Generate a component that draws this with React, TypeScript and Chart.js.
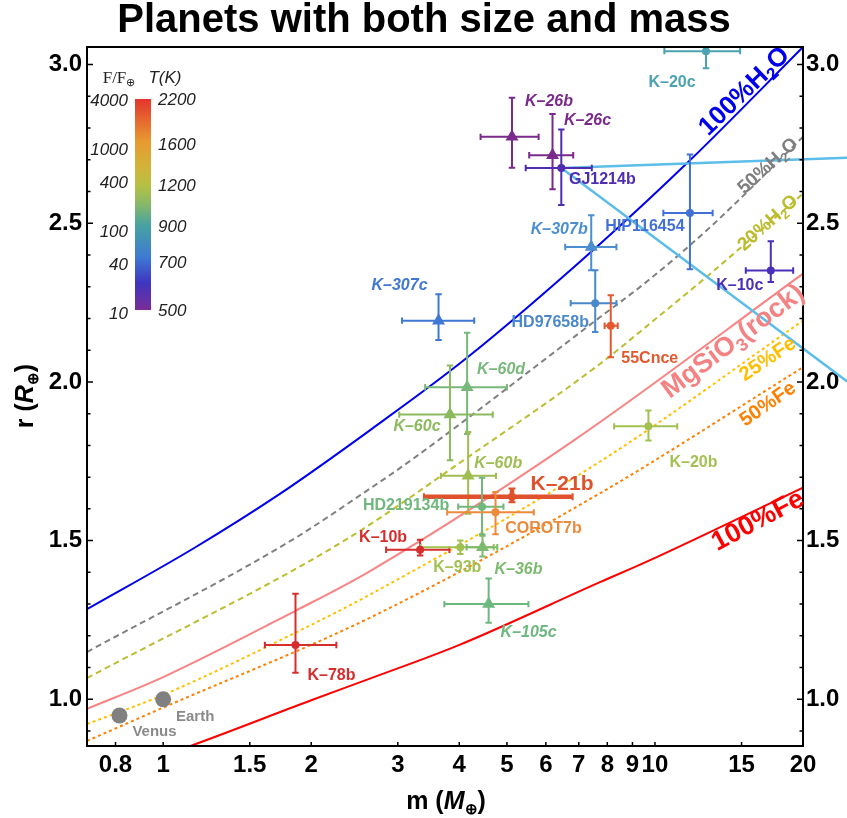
import React, { useEffect, useRef } from 'react';
import { Chart, registerables } from 'chart.js';

Chart.register(...registerables);

const W = 847;
const H = 818;
const FRAME = { left: 87, right: 803, top: 47, bottom: 746 };
const SANS = "'Liberation Sans', Arial, Helvetica, sans-serif";
const SERIF = "'Liberation Serif', 'Times New Roman', serif";

// ---------- axes ----------
const massMin = 0.7;
const massMax = 20;
const radiusMin = 0.853;
const radiusMax = 3.055;
const massTicks = [0.8, 1, 1.5, 2, 3, 4, 5, 6, 7, 8, 9, 10, 15, 20];
const radiusTicks = [1.0, 1.5, 2.0, 2.5, 3.0];
const radiusMinorTicks = [0.9, 1.1, 1.2, 1.3, 1.4, 1.6, 1.7, 1.8, 1.9, 2.1, 2.2, 2.3, 2.4, 2.6, 2.7, 2.8, 2.9];

// ---------- planets ----------
const planetNames = ['K–20c', 'K–26b', 'K–26c', 'GJ1214b', 'HIP116454', 'K–10c', 'K–307b', 'K–307c', 'HD97658b', '55Cnce', 'K–60d', 'K–60c', 'K–60b', 'K–21b', 'HD219134b', 'COROT7b', 'K–10b', 'K–93b', 'K–36b', 'K–105c', 'K–78b', 'K–20b'];
const planetMass = [12.7, 5.12, 6.19, 6.45, 11.78, 17.2, 7.42, 3.63, 7.56, 8.13, 4.15, 3.83, 4.17, 5.12, 4.45, 4.74, 3.33, 4.02, 4.46, 4.59, 1.858, 9.7];
const planetMassLow = [10.45, 4.42, 5.55, 5.46, 10.4, 15.3, 6.57, 3.06, 6.74, 7.9, 3.41, 3.02, 3.67, 3.39, 3.98, 3.78, 2.84, 3.34, 4.14, 3.73, 1.61, 8.26];
const planetMassHigh = [14.9, 5.8, 6.82, 7.44, 13.1, 19.1, 8.35, 4.29, 8.35, 8.4, 5.0, 4.68, 4.75, 6.8, 4.92, 5.67, 3.82, 4.7, 4.78, 5.53, 2.25, 11.1];
const planetRadius = [3.042, 2.772, 2.714, 2.674, 2.532, 2.351, 2.425, 2.193, 2.248, 2.177, 1.983, 1.897, 1.704, 1.638, 1.607, 1.589, 1.471, 1.479, 1.479, 1.3, 1.171, 1.86];
const planetRadiusLow = [2.988, 2.675, 2.607, 2.557, 2.355, 2.315, 2.352, 2.132, 2.157, 2.078, 1.836, 1.753, 1.585, 1.621, 1.52, 1.52, 1.453, 1.458, 1.45, 1.241, 1.084, 1.815];
const planetRadiusHigh = [3.1, 2.895, 2.844, 2.795, 2.716, 2.443, 2.525, 2.276, 2.352, 2.273, 2.155, 2.052, 1.842, 1.664, 1.698, 1.653, 1.503, 1.5, 1.515, 1.381, 1.333, 1.91];
const planetColors = ['#4ba2b0', '#7b2a8c', '#7b2a8c', '#4f2cb0', '#4270d6', '#4a30b8', '#4b8fd0', '#3f78d4', '#4a88cc', '#e5582e', '#79b87b', '#8bba5e', '#9fbd50', '#e0522e', '#70b87c', '#ec8a3c', '#d62d2d', '#a2c152', '#7cbb6e', '#6db87e', '#d62d2d', '#a2c152'];
const planetMarkers = ['circle', 'triangle', 'triangle', 'circle', 'circle', 'circle', 'triangle', 'triangle', 'circle', 'circle', 'triangle', 'triangle', 'triangle', 'circle', 'circle', 'circle', 'circle', 'circle', 'triangle', 'triangle', 'circle', 'circle'];
const planetItalic = [false, true, true, false, false, false, true, true, false, false, true, true, true, false, false, false, false, false, true, true, false, false];
const planetLabelDx = [-34, 37, 35, 41, -45, -31, -32, -39, -45, 39, 34, -33, 30, 50, -76, 48, -37, -3, 36, 40, 36, 45];
const planetLabelDy = [31, -35, -35, 12, 14, 15, -17, -35, 19, 33, -18, 12, -12, -13, -1, 16, -12, 20, 22, 28, 31, 36];
const planetLabelSize = [16, 16, 16, 16, 16, 16, 16, 16, 16, 16, 16, 16, 16, 21, 16, 16, 16, 16, 16, 16, 16, 16];
const planetBarWidth = [2, 2, 2, 2, 2, 2, 2, 2, 2, 2, 2, 2, 2, 4.5, 2, 2, 2, 2, 2, 2, 2, 2];

const solarNames = ['Venus', 'Earth'];
const solarMass = [0.815, 1.0];
const solarRadius = [0.949, 1.0];
const solarLabelDx = [35, 32];
const solarLabelDy = [16, 18];

// ---------- composition curves ----------
const h2o100Mass = [0.7, 1.154, 1.73, 2.64, 4.14, 7.75, 11.78, 20];
const h2o100Radius = [1.284, 1.476, 1.648, 1.849, 2.075, 2.436, 2.698, 3.055];
const h2o50Mass = [0.7, 1.815, 2.64, 3.17, 7.75, 9.7, 12.96, 20];
const h2o50Radius = [1.149, 1.499, 1.665, 1.75, 2.205, 2.32, 2.488, 2.772];
const h2o20Mass = [0.7, 2.33, 4.14, 7.75, 9.7, 12.96, 20];
const h2o20Radius = [1.067, 1.499, 1.76, 2.058, 2.18, 2.341, 2.593];
const rockMass = [0.7, 1, 1.858, 2.64, 6.83, 20];
const rockRadius = [0.97, 1.07, 1.279, 1.405, 1.815, 2.341];
const fe25Mass = [0.7, 1, 1.858, 2.64, 7.75, 20];
const fe25Radius = [0.922, 1.014, 1.21, 1.331, 1.75, 2.193];
const fe50Mass = [0.7, 1, 2.64, 7.75, 20];
const fe50Radius = [0.869, 0.974, 1.258, 1.65, 2.046];
const fe100Mass = [0.7, 1.136, 2, 2.64, 3.98, 7.75, 9.6, 20];
const fe100Radius = [0.74, 0.853, 0.997, 1.066, 1.17, 1.37, 1.433, 1.667];

// light-blue tracks from GJ1214b
const trackMass = [6.45, 24.6];
const trackARadius = [2.674, 2.706];
const trackBRadius = [2.674, 2.001];

// ---------- colour bar ----------
const fluxLabels = [4000, 1000, 400, 100, 40, 10];
const tempLabels = [2200, 1600, 1200, 900, 700, 500];
const tempMax = 2200;
const tempMin = 500;
const fluxMax = 3922;
const fluxMin = 10.4;
const barStops = [0, 0.2, 0.32, 0.41, 0.5, 0.6, 0.75, 0.87, 1];
const barColors = ['#e3352d', '#e79a30', '#d2b338', '#b6c044', '#86b868', '#46a2a2', '#3f79d4', '#3e36c0', '#7a2c98'];

const zip = (xs: number[], ys: number[]) => xs.map((x, i) => ({ x, y: ys[i] }));

type Seg = { t: string; size: number; italic?: boolean; bold?: boolean; dy?: number; family?: string };

function drawRich(ctx: CanvasRenderingContext2D, segs: Seg[], x: number, y: number, angle: number, color: string, align: 'center' | 'left' | 'right' = 'center', baseSize?: number) {
  ctx.save();
  ctx.translate(x, y);
  ctx.rotate(angle);
  const fontOf = (s: Seg) => `${s.italic ? 'italic ' : ''}${s.bold === false ? '' : 'bold '}${s.size}px ${s.family || SANS}`;
  let total = 0;
  const widths = segs.map((s) => {
    ctx.font = fontOf(s);
    const w = ctx.measureText(s.t).width;
    total += w;
    return w;
  });
  let cx = align === 'center' ? -total / 2 : align === 'right' ? -total : 0;
  const bs = baseSize || segs[0].size;
  ctx.fillStyle = color;
  ctx.textAlign = 'left';
  ctx.textBaseline = 'alphabetic';
  segs.forEach((s, i) => {
    ctx.font = fontOf(s);
    ctx.fillText(s.t, cx, 0.36 * bs + (s.dy || 0));
    cx += widths[i];
  });
  ctx.restore();
}

const deg = (d: number) => (d * Math.PI) / 180;

const decorPlugin = {
  id: 'decor',
  beforeDatasetDraw(chart: any, args: any) {
    const ds = chart.data.datasets[args.index];
    if (ds.label !== 'planets') return;
    const { ctx, chartArea: a } = chart;
    const xs = chart.scales.x;
    const ys = chart.scales.y;
    ctx.save();
    ctx.beginPath();
    ctx.rect(a.left, a.top, a.right - a.left, a.bottom - a.top);
    ctx.clip();
    planetNames.forEach((_, i) => {
      const x = xs.getPixelForValue(planetMass[i]);
      const y = ys.getPixelForValue(planetRadius[i]);
      const x0 = xs.getPixelForValue(planetMassLow[i]);
      const x1 = xs.getPixelForValue(planetMassHigh[i]);
      const y0 = ys.getPixelForValue(planetRadiusLow[i]);
      const y1 = ys.getPixelForValue(planetRadiusHigh[i]);
      const lw = planetBarWidth[i];
      const cap = lw > 2 ? 3.5 : 3.2;
      ctx.strokeStyle = planetColors[i];
      ctx.lineWidth = lw;
      ctx.beginPath();
      ctx.moveTo(x0, y);
      ctx.lineTo(x1, y);
      ctx.moveTo(x, y0);
      ctx.lineTo(x, y1);
      ctx.stroke();
      ctx.lineWidth = 2;
      ctx.beginPath();
      ctx.moveTo(x0, y - cap);
      ctx.lineTo(x0, y + cap);
      ctx.moveTo(x1, y - cap);
      ctx.lineTo(x1, y + cap);
      ctx.moveTo(x - cap, y0);
      ctx.lineTo(x + cap, y0);
      ctx.moveTo(x - cap, y1);
      ctx.lineTo(x + cap, y1);
      ctx.stroke();
    });
    ctx.restore();
  },
  afterDatasetsDraw(chart: any) {
    const { ctx, chartArea: a } = chart;
    const xs = chart.scales.x;
    const ys = chart.scales.y;

    // frame
    ctx.save();
    ctx.strokeStyle = '#000';
    ctx.lineWidth = 2;
    ctx.strokeRect(a.left, a.top, a.right - a.left, a.bottom - a.top);
    ctx.lineWidth = 1.5;
    ctx.beginPath();
    radiusTicks.forEach((r) => {
      const y = ys.getPixelForValue(r);
      ctx.moveTo(a.left, y);
      ctx.lineTo(a.left + 6, y);
      ctx.moveTo(a.right, y);
      ctx.lineTo(a.right - 6, y);
    });
    radiusMinorTicks.forEach((r) => {
      const y = ys.getPixelForValue(r);
      ctx.moveTo(a.left, y);
      ctx.lineTo(a.left + 3.5, y);
      ctx.moveTo(a.right, y);
      ctx.lineTo(a.right - 3.5, y);
    });
    massTicks.forEach((m) => {
      const x = xs.getPixelForValue(m);
      ctx.moveTo(x, a.bottom);
      ctx.lineTo(x, a.bottom - 4);
    });
    ctx.stroke();
    ctx.restore();

    // planet labels
    ctx.save();
    ctx.textAlign = 'center';
    ctx.textBaseline = 'middle';
    planetNames.forEach((n, i) => {
      const x = xs.getPixelForValue(planetMass[i]) + planetLabelDx[i];
      const y = ys.getPixelForValue(planetRadius[i]) + planetLabelDy[i];
      ctx.font = `${planetItalic[i] ? 'italic ' : ''}bold ${planetLabelSize[i]}px ${SANS}`;
      ctx.fillStyle = planetColors[i];
      ctx.fillText(n, x, y);
    });
    solarNames.forEach((n, i) => {
      const x = xs.getPixelForValue(solarMass[i]) + solarLabelDx[i];
      const y = ys.getPixelForValue(solarRadius[i]) + solarLabelDy[i];
      ctx.font = `bold 15px ${SANS}`;
      ctx.fillStyle = '#8a8a8a';
      ctx.fillText(n, x, y);
    });
    ctx.restore();

    // curve labels
    drawRich(ctx, [{ t: '100%H', size: 26 }, { t: '2', size: 17, dy: 5 }, { t: 'O', size: 26 }], 743, 90, deg(-44), '#0000ee');
    drawRich(ctx, [{ t: '50%H', size: 19 }, { t: '2', size: 13, dy: 4 }, { t: 'O', size: 19 }], 767, 165, deg(-42), '#7f7f7f');
    drawRich(ctx, [{ t: '20%H', size: 19 }, { t: '2', size: 13, dy: 4 }, { t: 'O', size: 19 }], 767, 222, deg(-42), '#bcbc2e');
    drawRich(ctx, [{ t: 'MgSiO', size: 27 }, { t: '3', size: 18, dy: 6 }, { t: '(rock)', size: 27 }], 732, 340, deg(-37), '#f58282');
    drawRich(ctx, [{ t: '25%Fe', size: 20 }], 767, 358, deg(-34), '#ffbe00');
    drawRich(ctx, [{ t: '50%Fe', size: 20 }], 767, 403, deg(-35), '#ff8000');
    drawRich(ctx, [{ t: '100%Fe', size: 27 }], 757, 519, deg(-28), '#ff0000');

    // colour bar
    const bx = 135, by = 99, bw = 16, bh = 211;
    const grad = ctx.createLinearGradient(0, by, 0, by + bh);
    barStops.forEach((s, i) => grad.addColorStop(s, barColors[i]));
    ctx.save();
    ctx.fillStyle = grad;
    ctx.fillRect(bx, by, bw, bh);
    ctx.fillStyle = '#222';
    ctx.textBaseline = 'middle';
    ctx.font = `italic 17px ${SANS}`;
    ctx.textAlign = 'right';
    fluxLabels.forEach((f) => {
      const frac = Math.log10(fluxMax / f) / Math.log10(fluxMax / fluxMin);
      ctx.fillText(String(f), 128, by + frac * bh + 3);
    });
    ctx.textAlign = 'left';
    tempLabels.forEach((t) => {
      const frac = Math.log10(tempMax / t) / Math.log10(tempMax / tempMin);
      ctx.fillText(String(t), 158, by + frac * bh + 1);
    });
    ctx.restore();
    drawRich(ctx, [{ t: 'F/F', size: 17, bold: false, family: SERIF }, { t: '⊕', size: 11, bold: false, dy: 3 }], 119, 77, 0, '#222');
    drawRich(ctx, [{ t: 'T', size: 17, bold: false, italic: true }, { t: '(K)', size: 17, bold: false, italic: true }], 165, 77, 0, '#222');

    // title
    ctx.save();
    ctx.fillStyle = '#000';
    ctx.font = `bold 40px ${SANS}`;
    ctx.textAlign = 'center';
    ctx.textBaseline = 'alphabetic';
    ctx.fillText('Planets with both size and mass', 424, 32);
    ctx.restore();

    // axis titles
    drawRich(ctx, [{ t: 'm (', size: 25 }, { t: 'M', size: 25, italic: true }, { t: '⊕', size: 15, dy: 5 }, { t: ')', size: 25 }], 446, 800, 0, '#000');
    drawRich(ctx, [{ t: 'r (', size: 25 }, { t: 'R', size: 25, italic: true }, { t: '⊕', size: 15, dy: 5 }, { t: ')', size: 25 }], 24, 396, deg(-90), '#000');
  },
};

export default function App() {
  const ref = useRef<HTMLCanvasElement>(null);
  useEffect(() => {
    const canvas = ref.current;
    if (!canvas) return;
    const curve = (label: string, xs: number[], ys: number[], color: string, dash: number[] = []) => ({
      label,
      data: zip(xs, ys),
      showLine: true,
      borderColor: color,
      borderWidth: 2,
      borderDash: dash,
      pointRadius: 0,
      fill: false,
      cubicInterpolationMode: 'monotone',
      order: 3,
    });
    const tickFont = { family: SANS, size: 24, weight: 'bold' as const };
    const yAxis = (position: 'left' | 'right', width: number) => ({
      type: 'linear',
      position,
      min: radiusMin,
      max: radiusMax,
      afterBuildTicks: (s: any) => {
        s.ticks = radiusTicks.map((v) => ({ value: v }));
      },
      afterFit: (s: any) => {
        s.width = width;
      },
      ticks: {
        callback: (v: any) => Number(v).toFixed(1),
        font: tickFont,
        color: '#000',
        padding: position === 'left' ? 5 : 3,
        autoSkip: false,
      },
      grid: { display: false, drawTicks: false },
      border: { display: false },
    });
    const chart = new Chart(canvas, {
      type: 'scatter',
      data: {
        datasets: [
          {
            label: 'planets',
            data: zip(planetMass, planetRadius),
            pointStyle: planetMarkers as any,
            pointRadius: planetMarkers.map((m) => (m === 'triangle' ? 7.5 : 4)),
            pointBackgroundColor: planetColors,
            pointBorderWidth: 0,
            order: 0,
          },
          {
            label: 'solar',
            data: zip(solarMass, solarRadius),
            pointRadius: 8,
            pointBackgroundColor: '#808080',
            pointBorderWidth: 0,
            order: 0,
          },
          {
            label: 'trackA',
            data: zip(trackMass, trackARadius),
            showLine: true,
            borderColor: '#5cbde9',
            borderWidth: 2.5,
            pointRadius: 0,
            clip: false,
            order: 1,
          },
          {
            label: 'trackB',
            data: zip(trackMass, trackBRadius),
            showLine: true,
            borderColor: '#5cbde9',
            borderWidth: 2.5,
            pointRadius: 0,
            clip: false,
            order: 1,
          },
          curve('h2o100', h2o100Mass, h2o100Radius, '#0000f0'),
          curve('h2o50', h2o50Mass, h2o50Radius, '#808080', [6, 4]),
          curve('h2o20', h2o20Mass, h2o20Radius, '#bdbd30', [6, 4]),
          curve('rock', rockMass, rockRadius, '#f88484'),
          curve('fe25', fe25Mass, fe25Radius, '#ffc000', [3, 3]),
          curve('fe50', fe50Mass, fe50Radius, '#ff8000', [3, 3]),
          curve('fe100', fe100Mass, fe100Radius, '#ff0000'),
        ] as any,
      },
      options: {
        animation: false,
        responsive: false,
        maintainAspectRatio: false,
        layout: { padding: { top: FRAME.top, left: 0, right: 0, bottom: 0 } },
        plugins: {
          legend: { display: false },
          tooltip: { enabled: false },
          title: { display: false },
        },
        scales: {
          x: {
            type: 'logarithmic',
            position: 'bottom',
            min: massMin,
            max: massMax,
            afterBuildTicks: (s: any) => {
              s.ticks = massTicks.map((v) => ({ value: v }));
            },
            afterFit: (s: any) => {
              s.height = H - FRAME.bottom;
            },
            ticks: {
              callback: (v: any) => String(Number(v)),
              font: tickFont,
              color: '#000',
              padding: 5,
              autoSkip: false,
              maxRotation: 0,
              minRotation: 0,
            },
            grid: { display: false, drawTicks: false },
            border: { display: false },
          },
          y: yAxis('left', FRAME.left) as any,
          y2: yAxis('right', W - FRAME.right) as any,
        },
      } as any,
      plugins: [decorPlugin],
    });
    return () => chart.destroy();
  }, []);
  return (
    <div style={{ position: 'absolute', left: 0, top: 0, width: W, height: H, background: '#fff' }}>
      <canvas ref={ref} width={W} height={H} style={{ width: W, height: H, display: 'block' }} />
    </div>
  );
}
